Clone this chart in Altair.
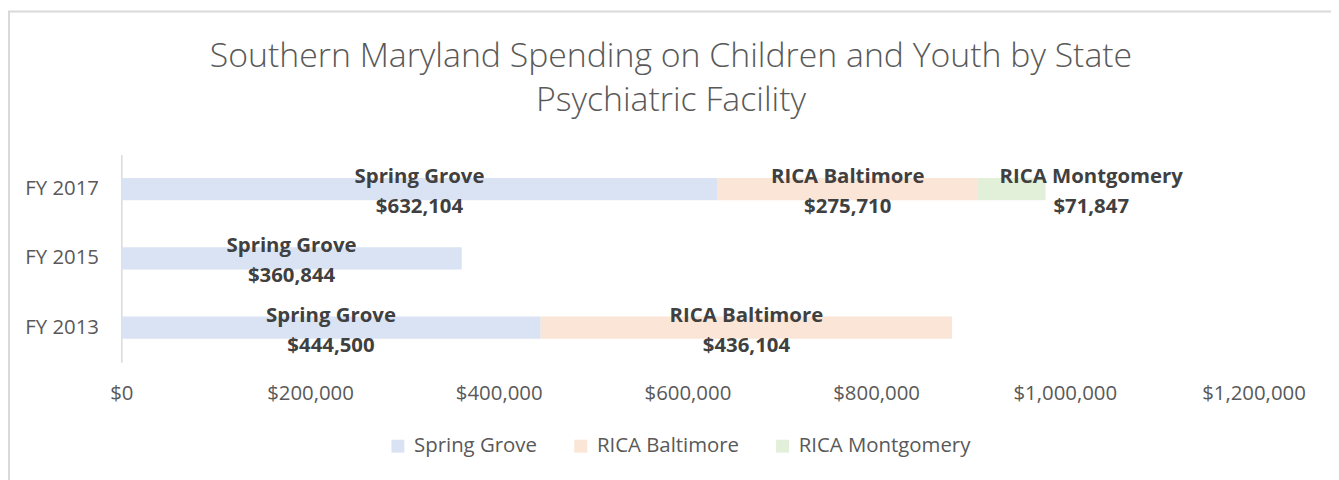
import altair as alt
import pandas as pd

# ---- data ----
years = ["FY 2017", "FY 2015", "FY 2013"]
facilities = ["Spring Grove", "RICA Baltimore", "RICA Montgomery"]
spring_grove = [632104, 360844, 444500]
rica_baltimore = [275710, 0, 436104]
rica_montgomery = [71847, 0, 0]
colors = ["#DAE3F3", "#FBE5D6", "#E2F0D9"]
x_ticks = [0, 200000, 400000, 600000, 800000, 1000000, 1200000]
title_text = "Southern Maryland Spending on Children and Youth by State\nPsychiatric Facility"

rows = []
for i, yr in enumerate(years):
    for k, (fac, vals) in enumerate(zip(facilities, [spring_grove, rica_baltimore, rica_montgomery])):
        v = vals[i]
        if v > 0:
            rows.append({"year": yr, "facility": fac, "order": k, "value": v,
                         "label": f"{fac}\n${v:,.0f}"})
df = pd.DataFrame(rows)

FONT = "Open Sans"
GRAY = "#595959"

base = alt.Chart(df).transform_stack(
    stack="value", groupby=["year"], as_=["x0", "x1"],
    sort=[alt.SortField("order", order="ascending")]
).transform_calculate(mid="(datum.x0 + datum.x1) / 2")

yenc = alt.Y("year:N", sort=years, title=None,
             scale=alt.Scale(paddingInner=0.68, paddingOuter=0.34),
             axis=alt.Axis(domain=True, domainColor="#D9D9D9", domainWidth=1.5,
                           ticks=False, tickSize=0, labelPadding=23,
                           labelFont=FONT, labelFontSize=20.5, labelColor=GRAY))

bars = base.mark_bar().encode(
    x=alt.X("x0:Q", title=None,
            scale=alt.Scale(domain=[0, 1200000], nice=False),
            axis=alt.Axis(values=x_ticks, format="$,.0f", domain=False, ticks=False,
                          tickSize=0, grid=False, labelPadding=21, labelFlush=False,
                          labelFont=FONT, labelFontSize=20.5, labelColor=GRAY)),
    x2="x1:Q",
    y=yenc,
    color=alt.Color("facility:N",
                    scale=alt.Scale(domain=facilities, range=colors),
                    legend=alt.Legend(title=None, orient="none", direction="horizontal",
                                      legendX=268, legendY=283, padding=0,
                                      symbolType="square", symbolSize=169,
                                      symbolStrokeWidth=0, labelOffset=6,
                                      columnPadding=33, labelFont=FONT, labelLimit=500,
                                      labelFontSize=20.5, labelColor=GRAY)),
)

text_main = base.transform_filter(
    alt.datum.facility != "RICA Montgomery"
).mark_text(font=FONT, fontSize=20.5, fontWeight="bold", color="#404040",
            lineBreak="\n", lineHeight=30, baseline="alphabetic", dy=-6,
            align="center").encode(
    x="mid:Q", y=alt.Y("year:N", sort=years), text="label:N")

text_mont = base.transform_filter(
    alt.datum.facility == "RICA Montgomery"
).mark_text(font=FONT, fontSize=20.5, fontWeight="bold", color="#404040",
            lineBreak="\n", lineHeight=30, baseline="alphabetic", dy=-6, dx=80,
            align="center").encode(
    x="mid:Q", y=alt.Y("year:N", sort=years), text="label:N")

one = pd.DataFrame({"k": [0]})

frame = alt.Chart(one).mark_rect(
    fill="white", fillOpacity=0, stroke="#D9D9D9", strokeWidth=2
).encode(x=alt.value(-113), x2=alt.value(2000), y=alt.value(-144), y2=alt.value(2000))

title = alt.Chart(one).mark_text(
    font=FONT, fontSize=34, fontWeight=300, color=GRAY, lineBreak="\n",
    lineHeight=44, baseline="alphabetic", align="center"
).encode(x=alt.value(553), y=alt.value(-88), text=alt.value(title_text))

chart = alt.layer(frame, title, bars, text_main, text_mont).properties(
    width=1139, height=209,
    autosize=alt.AutoSizeParams(type="none"),
    padding={"left": 114, "top": 146, "right": 78, "bottom": 117},
).configure_view(strokeWidth=0)

chart.save("out.html", embed_options={"renderer": "svg", "actions": False})
